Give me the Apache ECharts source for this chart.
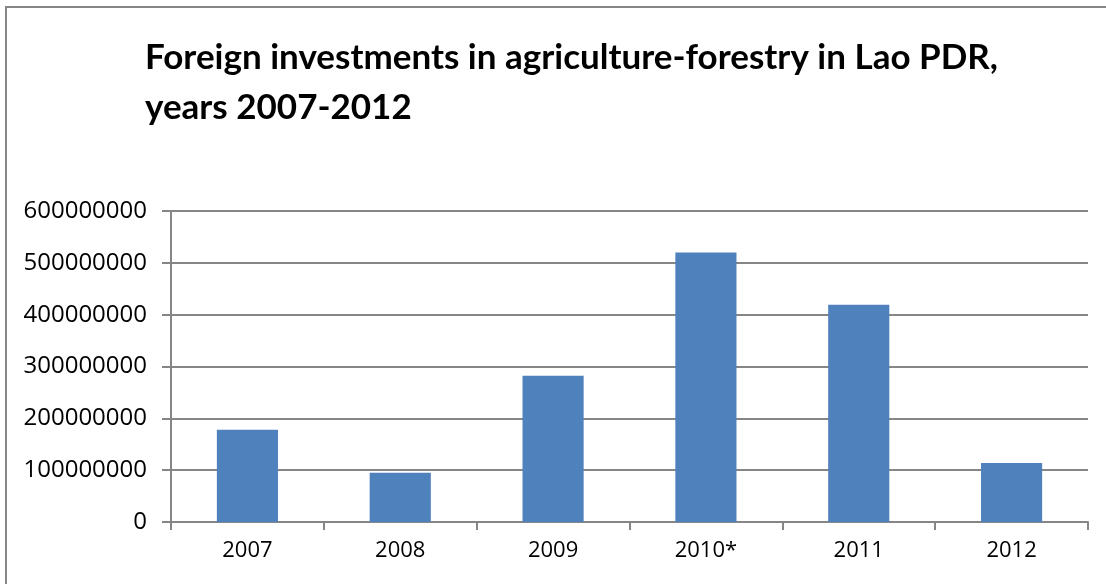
<!DOCTYPE html>
<html>
<head>
<meta charset="utf-8">
<title>Foreign investments in agriculture-forestry in Lao PDR</title>
<script src="https://cdn.jsdelivr.net/npm/echarts@6/dist/echarts.min.js"></script>
<style>
  html, body { margin: 0; padding: 0; background: #ffffff; }
  #chart { width: 1106px; height: 584px; }
</style>
</head>
<body>
<div id="chart"></div>
<script>
// Investment totals (USD) per year
const years = ['2007', '2008', '2009', '2010*', '2011', '2012'];
const investments = [178000000, 95000000, 282000000, 520000000, 419000000, 114000000];
const titleText = 'Foreign investments in agriculture-forestry in Lao PDR,\nyears 2007-2012';

const axisGray = '#868686';
const barBlue = '#4F81BD';
const labelFont = 'Open Sans';

const chart = echarts.init(document.getElementById('chart'));
chart.setOption({
  animation: false,
  backgroundColor: '#ffffff',
  title: {
    text: titleText,
    left: 140,
    top: 28,
    textStyle: {
      fontFamily: 'Lato',
      fontWeight: 'bold',
      fontSize: 35,
      lineHeight: 50,
      color: '#000000'
    }
  },
  graphic: [{
    type: 'rect',
    silent: true,
    shape: { x: 6, y: 7, width: 1200, height: 700 },
    style: { fill: 'none', stroke: axisGray, lineWidth: 2 }
  }],
  grid: { left: 171, right: 18, top: 211, bottom: 62 },
  xAxis: {
    type: 'category',
    data: years,
    axisLine: { show: true, lineStyle: { color: axisGray, width: 2 } },
    axisTick: { show: true, length: 8, lineStyle: { color: axisGray, width: 2 } },
    axisLabel: { color: '#000000', fontFamily: labelFont, fontSize: 22, margin: 18 }
  },
  yAxis: {
    type: 'value',
    min: 0,
    max: 600000000,
    interval: 100000000,
    axisLine: { show: true, lineStyle: { color: axisGray, width: 2 } },
    axisTick: { show: true, length: 9, lineStyle: { color: axisGray, width: 2 } },
    splitLine: { show: true, lineStyle: { color: axisGray, width: 2 } },
    axisLabel: {
      color: '#000000', fontFamily: labelFont, fontSize: 24, margin: 24,
      formatter: function (v) { return String(v); }
    }
  },
  series: [{
    type: 'bar',
    data: investments,
    barCategoryGap: '60%',
    itemStyle: { color: barBlue }
  }]
});
</script>
</body>
</html>
